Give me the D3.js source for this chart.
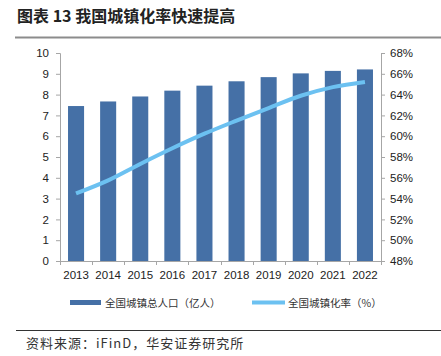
<!DOCTYPE html>
<html><head><meta charset="utf-8">
<script src="https://cdn.jsdelivr.net/npm/d3@7"></script>
<style>body{margin:0;background:#fff}svg{display:block}</style>
</head><body>
<svg id="c" width="441" height="356"></svg>
<script>
const years = ["2013","2014","2015","2016","2017","2018","2019","2020","2021","2022"];
const urbanPop = [7.45, 7.67, 7.91, 8.19, 8.43, 8.64, 8.84, 9.02, 9.14, 9.21];
const urbanRate = [54.49, 55.75, 57.33, 58.84, 60.24, 61.50, 62.71, 63.89, 64.72, 65.22];
const leftTicks = [0,1,2,3,4,5,6,7,8,9,10];
const rightTicks = [48,50,52,54,56,58,60,62,64,66,68];
const titleText = "图表 13 我国城镇化率快速提高";
const legendLabels = ["全国城镇总人口（亿人）", "全国城镇化率（%）"];
const sourceText = "资料来源：iFinD，华安证券研究所";

const svg = d3.select("#c");
const L = 60, R = 381, T = 53, B = 261;
const axisColor = "#a6a6a6";
const barColor = "#4570a6";
const lineColor = "#6cc1f1";
const font = "'Liberation Sans', Arial, sans-serif";
const cjk = "'Noto Sans CJK SC', sans-serif";

// title
svg.append("text").attr("x", 17).attr("y", 22)
  .attr("font-family", cjk).attr("font-weight", "bold").attr("font-size", 16)
  .attr("fill", "#222").text(titleText);
svg.append("line").attr("x1", 15).attr("x2", 441).attr("y1", 37.5).attr("y2", 37.5)
  .attr("stroke", "#8c8c8c").attr("stroke-width", 2);

const x = d3.scaleBand().domain(years).range([L, R]).paddingInner(0.5).paddingOuter(0.25);
const yL = d3.scaleLinear().domain([0, 10]).range([B, T]);
const yR = d3.scaleLinear().domain([48, 68]).range([B, T]);

// bars
svg.append("g").selectAll("rect").data(years).join("rect")
  .attr("x", d => x(d)).attr("width", x.bandwidth())
  .attr("y", (d, i) => yL(urbanPop[i])).attr("height", (d, i) => B - yL(urbanPop[i]))
  .attr("fill", barColor);

// axes
function styleAxis(g) {
  g.selectAll("path,line").attr("stroke", axisColor);
  g.selectAll("text").attr("font-family", font).attr("font-size", 11.5).attr("fill", "#222");
}
const gl = svg.append("g").attr("transform", `translate(${L},0)`)
  .call(d3.axisLeft(yL).tickValues(leftTicks).tickSize(4).tickSizeOuter(4).tickPadding(7));
styleAxis(gl);
const gr = svg.append("g").attr("transform", `translate(${R},0)`)
  .call(d3.axisRight(yR).tickValues(rightTicks).tickFormat(d => d + "%").tickSize(4).tickSizeOuter(4).tickPadding(5));
styleAxis(gr);

// x axis: line + ticks between categories
const gx = svg.append("g");
gx.append("line").attr("x1", L).attr("x2", R).attr("y1", B + 0.5).attr("y2", B + 0.5).attr("stroke", axisColor);
const step = x.step();
gx.selectAll("line.t").data(d3.range(years.length + 1)).join("line").attr("class", "t")
  .attr("x1", i => Math.round(L + i * step) + 0.5).attr("x2", i => Math.round(L + i * step) + 0.5)
  .attr("y1", B).attr("y2", B + 4).attr("stroke", axisColor);
gx.selectAll("text").data(years).join("text")
  .attr("x", d => x(d) + x.bandwidth() / 2).attr("y", B + 18)
  .attr("text-anchor", "middle").attr("font-family", font).attr("font-size", 11.5).attr("fill", "#222")
  .text(d => d);

// line
const line = d3.line().x((d, i) => x(years[i]) + x.bandwidth() / 2).y(d => yR(d)).curve(d3.curveMonotoneX);
svg.append("path").datum(urbanRate).attr("d", line)
  .attr("fill", "none").attr("stroke", lineColor).attr("stroke-width", 4).attr("stroke-linecap", "butt");

// legend
const lg = svg.append("g");
lg.append("rect").attr("x", 70).attr("y", 300).attr("width", 31).attr("height", 5).attr("fill", barColor);
lg.append("text").attr("x", 105).attr("y", 306.5).attr("font-family", cjk).attr("font-size", 10.5)
  .attr("fill", "#333").text(legendLabels[0]);
lg.append("line").attr("x1", 252).attr("x2", 285).attr("y1", 302.5).attr("y2", 302.5)
  .attr("stroke", lineColor).attr("stroke-width", 4);
lg.append("text").attr("x", 288).attr("y", 306.5).attr("font-family", cjk).attr("font-size", 10.5)
  .attr("fill", "#333").text(legendLabels[1]);

// bottom rule and source
svg.append("line").attr("x1", 16).attr("x2", 441).attr("y1", 330.5).attr("y2", 330.5)
  .attr("stroke", "#333").attr("stroke-width", 1);
svg.append("text").attr("x", 26).attr("y", 348).attr("font-family", cjk).attr("font-size", 13)
  .attr("letter-spacing", 1).attr("fill", "#333").text(sourceText);
</script>
</body></html>
